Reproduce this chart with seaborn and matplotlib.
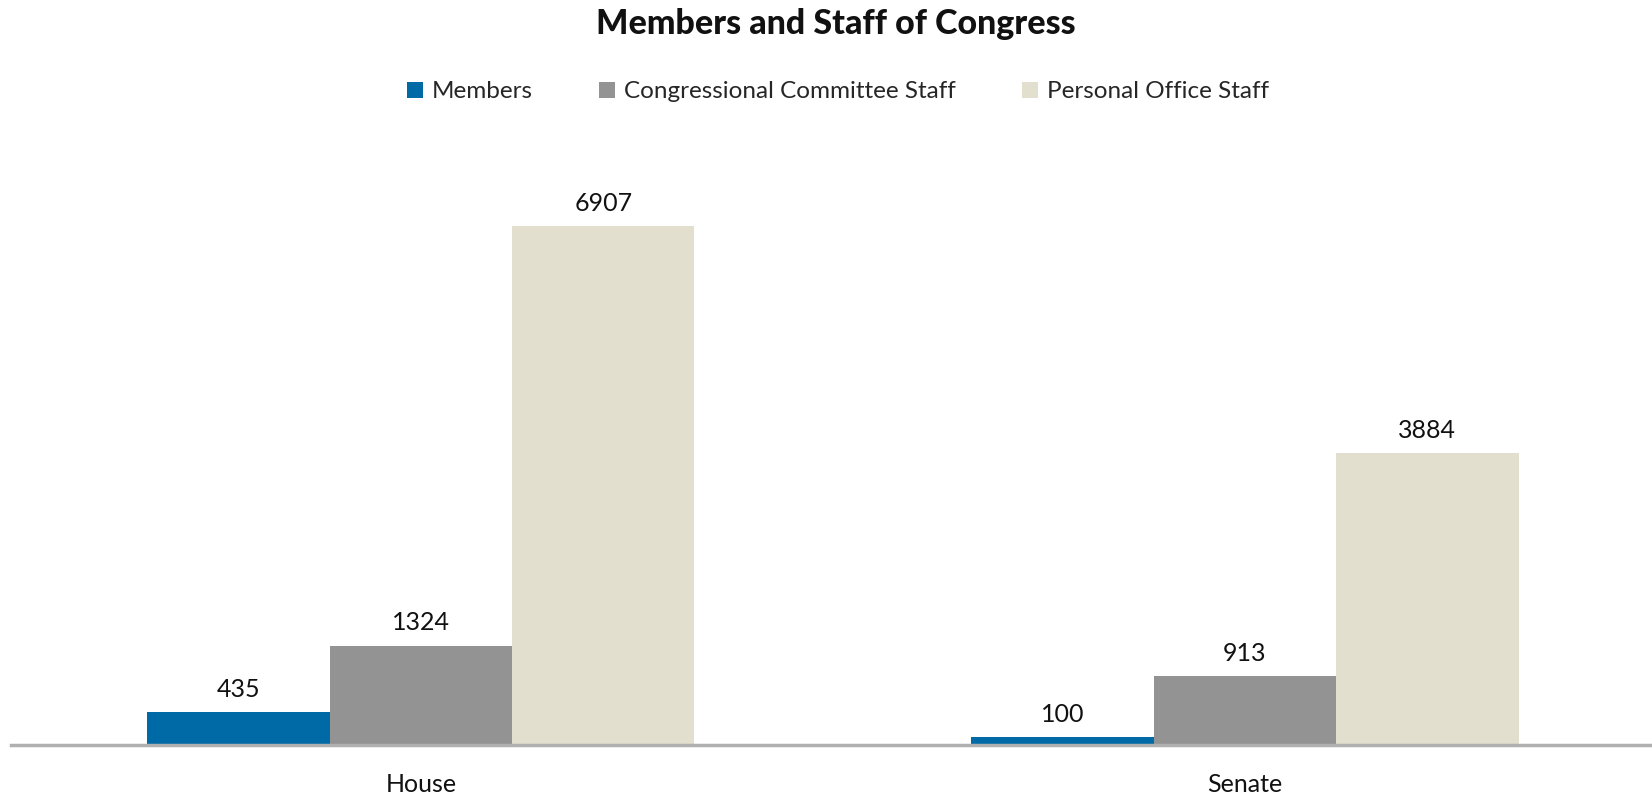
import matplotlib
matplotlib.use("Agg")
import matplotlib.pyplot as plt
import seaborn as sns
import pandas as pd

chambers = ["House", "Senate"]
series = ["Members", "Congressional Committee Staff", "Personal Office Staff"]
members = [435, 100]
committee_staff = [1324, 913]
personal_staff = [6907, 3884]
colors = ["#006AA6", "#939393", "#E2DFCE"]

rows = []
for name, vals in zip(series, [members, committee_staff, personal_staff]):
    for ch, v in zip(chambers, vals):
        rows.append({"Chamber": ch, "Series": name, "Value": v})
df = pd.DataFrame(rows)

sns.set_theme(style="white")
plt.rcParams["font.family"] = ["Lato", "DejaVu Sans"]

fig = plt.figure(figsize=(16.52, 7.97), dpi=100)
ax = fig.add_axes([10.5 / 1652, 1 - 745 / 797, 1 - 10.5 / 1652, (745 - 144.4) / 797])

sns.barplot(data=df, x="Chamber", y="Value", hue="Series", order=chambers,
            hue_order=series, palette=colors, width=0.664, saturation=1,
            ax=ax, errorbar=None, linewidth=0)

ax.set_xlim(-0.498, 1.494)
ax.set_ylim(0, 8000)
for c in ax.containers:
    ax.bar_label(c, fmt="%d", padding=8, fontsize=18, color="#111111")

for s in ["top", "right", "left"]:
    ax.spines[s].set_visible(False)
ax.spines["bottom"].set_color("#B0B0B0")
ax.spines["bottom"].set_linewidth(2.5)
ax.set_yticks([])
ax.set_xlabel("")
ax.set_ylabel("")
ax.tick_params(axis="x", length=0, pad=20, labelsize=18, colors="#111111")

fig.text(835.5 / 1652, 1 - 24 / 797, "Members and Staff of Congress", ha="center",
         va="center", fontsize=24.5, fontweight="black", color="#111111")

sns.move_legend(ax, "center", bbox_to_anchor=(838 / 1652, 1 - 92 / 797),
                bbox_transform=fig.transFigure, ncol=3, frameon=False, title=None,
                fontsize=17.5, handlelength=0.65, handleheight=0.65, handletextpad=0.35,
                columnspacing=2.75)

fig.savefig("out.png", dpi=100)
